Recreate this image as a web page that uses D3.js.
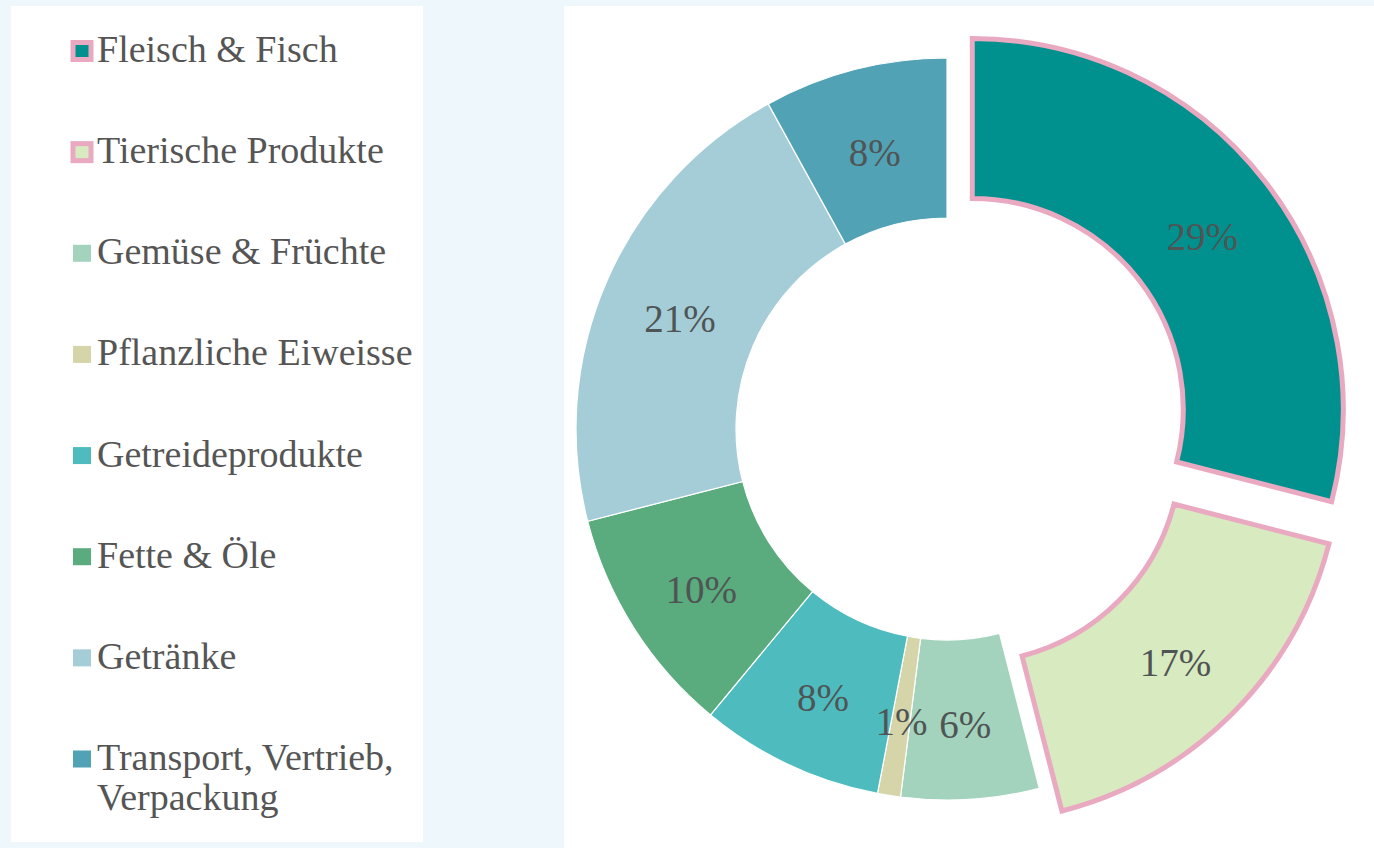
<!DOCTYPE html>
<html>
<head>
<meta charset="utf-8">
<script src="https://cdn.jsdelivr.net/npm/d3@7"></script>
<style>
  body { margin: 0; background: #eef7fb; }
  svg { display: block; }
  text { font-family: "Liberation Serif", "DejaVu Serif", serif; }
</style>
</head>
<body>
<div id="vis"></div>
<script>
// Data
const CATEGORIES = ["Fleisch & Fisch", "Tierische Produkte", "Gemüse & Früchte",
                    "Pflanzliche Eiweisse", "Getreideprodukte", "Fette & Öle",
                    "Getränke", "Transport, Vertrieb, Verpackung"];
const VALUES = [29, 17, 6, 1, 8, 10, 21, 8];
const COLORS = ["#00918f", "#d8eabf", "#a3d3bd", "#d6d4a9",
                "#4ebcbf", "#5aab7d", "#a5cdd7", "#52a2b5"];
const EXPLODED = ["Fleisch & Fisch", "Tierische Produkte"];
// legend labels split into lines
const LEGEND_LINES = [["Fleisch & Fisch"], ["Tierische Produkte"], ["Gemüse & Früchte"],
                      ["Pflanzliche Eiweisse"], ["Getreideprodukte"], ["Fette & Öle"],
                      ["Getränke"], ["Transport, Vertrieb,", "Verpackung"]];

const FRAME_WIDTH = 1374;
const FRAME_HEIGHT = 848;
const PINK = "#e9a9c0";

const CX = 947, CY = 429;
const OUTER_R = 371, INNER_R = 211;
const EXPLODE = 32;

const FRAME = d3.select("#vis")
                .append("svg")
                  .attr("width", FRAME_WIDTH)
                  .attr("height", FRAME_HEIGHT);

// background panels
FRAME.append("rect")
     .attr("width", FRAME_WIDTH).attr("height", FRAME_HEIGHT)
     .attr("fill", "#eef7fb");
FRAME.append("rect")
     .attr("x", 11).attr("y", 6).attr("width", 412).attr("height", 836)
     .attr("fill", "#ffffff");
FRAME.append("rect")
     .attr("x", 564).attr("y", 6).attr("width", FRAME_WIDTH - 564).attr("height", FRAME_HEIGHT - 6)
     .attr("fill", "#ffffff");

// color scale
const COLOR = d3.scaleOrdinal().domain(CATEGORIES).range(COLORS);

// donut
const pie = d3.pie().sort(null).value((d) => d.value);
const arc = d3.arc().innerRadius(INNER_R).outerRadius(OUTER_R);

const data = CATEGORIES.map((c, i) => ({name: c, value: VALUES[i]}));
const arcs = pie(data);

function offset(d) {
  if (!EXPLODED.includes(d.data.name)) return [0, 0];
  const a = (d.startAngle + d.endAngle) / 2;
  return [Math.sin(a) * EXPLODE, -Math.cos(a) * EXPLODE];
}

const DONUT = FRAME.append("g")
                   .attr("transform", "translate(" + CX + "," + CY + ")");

// slices first
DONUT.selectAll(".slice")
     .data(arcs)
     .enter()
     .append("path")
       .attr("class", "slice")
       .attr("transform", (d) => "translate(" + offset(d)[0] + "," + offset(d)[1] + ")")
       .attr("d", arc)
       .attr("fill", (d) => COLOR(d.data.name))
       .attr("stroke", (d) => EXPLODED.includes(d.data.name) ? PINK : "#ffffff")
       .attr("stroke-width", (d) => EXPLODED.includes(d.data.name) ? 5 : 1.2);

// labels on top of all slices
DONUT.selectAll(".label")
     .data(arcs)
     .enter()
     .append("text")
       .attr("class", "label")
       .attr("x", (d) => arc.centroid(d)[0] + offset(d)[0])
       .attr("y", (d) => arc.centroid(d)[1] + offset(d)[1] + 5)
       .attr("text-anchor", "middle")
       .attr("dominant-baseline", "central")
       .attr("font-size", "39px")
       .attr("fill", "#4f5454")
       .text((d) => d.data.value + "%");

// legend
const LEGEND_Y = d3.scaleLinear().domain([0, CATEGORIES.length - 1]).range([51, 759]);

const legend = FRAME.selectAll(".legend")
     .data(CATEGORIES)
     .enter()
     .append("g")
       .attr("class", "legend")
       .attr("transform", (d, i) => "translate(0," + LEGEND_Y(i) + ")");

legend.append("rect")
      .attr("x", 73)
      .attr("y", -8.5)
      .attr("width", 18)
      .attr("height", 17)
      .attr("fill", (d) => COLOR(d))
      .attr("stroke", (d) => EXPLODED.includes(d) ? PINK : "none")
      .attr("stroke-width", 5);

legend.each(function(d, i) {
  const t = d3.select(this).append("text")
              .attr("x", 97)
              .attr("y", 11)
              .attr("font-size", "38px")
              .attr("fill", "#555555");
  LEGEND_LINES[i].forEach((line, j) => {
    t.append("tspan")
     .attr("x", 97)
     .attr("dy", j === 0 ? 0 : 40)
     .text(line);
  });
});
</script>
</body>
</html>
